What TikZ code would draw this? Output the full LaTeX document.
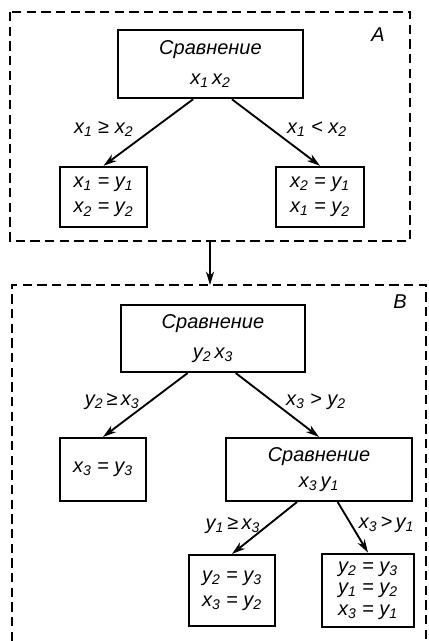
\documentclass[tikz,border=0pt]{standalone}
\usepackage{fontspec}
\setmainfont{Liberation Sans}
\usetikzlibrary{arrows.meta}

% variable with an index, set in the text face
\newcommand\vx[1]{\textit{x}\textsubscript{\itshape #1}}
\newcommand\vy[1]{\textit{y}\textsubscript{\itshape #1}}

\begin{document}
\begin{tikzpicture}[x = 0.75pt, y = -0.75pt, > = {Stealth[length = 10pt, width = 6pt, inset = 3pt]},
	block/.style = {draw, line width = 1.8pt, align = center, inner sep = 0pt, font = \fontsize{15}{19}\selectfont\itshape},
	branch/.style = {->, line width = 1.4pt},
	cond/.style = {font = \fontsize{15}{17}\selectfont\itshape, inner sep = 1pt},
	panel/.style = {dash pattern = on 7pt off 4pt, line width = 1.3pt}]

	\useasboundingbox (0, 0) rectangle (428, 641);

	% Panel A: first comparison

	\draw [panel] (10, 12) rectangle (410, 241);
	\node [cond] (labA) at (378, 35) {A};

	\node [block, minimum width = 139pt, minimum height = 51pt] (cmpA) at (210.5, 64) {Сравнение\\[4pt] \vx1\,\vx2};
	\node [block, minimum width = 65pt, minimum height = 45pt] (resA1) at (103.5, 197) {\vx1 = \vy1\\ \vx2 = \vy2};
	\node [block, minimum width = 66pt, minimum height = 45pt] (resA2) at (320, 197) {\vx2 = \vy1\\ \vx1 = \vy2};

	\draw [branch] ([xshift = -13pt] cmpA.south) -- node [cond, pos = 0.45, left = 13pt] {\vx1 ≥ \vx2} (resA1.north);
	\draw [branch] ([xshift = 16pt] cmpA.south) -- node [cond, pos = 0.45, right = 10pt] {\vx1 < \vx2} (resA2.north);

	% Link between the panels

	\coordinate (outA) at (210, 241);
	\coordinate (inB) at (210, 285);
	\draw [branch] (outA) -- (inB);

	% Panel B: second and third comparisons

	\draw [panel] (12, 641) -- (12, 285) -- (426, 285) -- (426, 641);
	\node [cond] (labB) at (400, 302) {B};

	\node [block, minimum width = 138pt, minimum height = 50pt] (cmpB) at (213, 338.5) {Сравнение\\[4pt] \vy2\,\vx3};
	\node [block, minimum width = 64.5pt, minimum height = 47pt] (resB) at (103, 469.5) {\vx3 = \vy3};
	\node [block, minimum width = 139.5pt, minimum height = 47pt] (cmpC) at (319, 469.5) {Сравнение\\ \vx3\,\vy1};

	\draw [branch] ([xshift = -19pt] cmpB.south) -- node [cond, pos = 0.45, left = 6pt] {\vy2\,≥\,\vx3} (resB.north);
	\draw [branch] ([xshift = 17pt] cmpB.south) -- node [cond, pos = 0.45, right = 8pt] {\vx3 > \vy2} (cmpC.north);

	\node [block, minimum width = 64.5pt, minimum height = 53pt] (resC1) at (232, 590.5) {\vy2 = \vy3\\ \vx3 = \vy2};
	\node [block, minimum width = 69pt, minimum height = 55pt, font = \fontsize{15}{16}\selectfont\itshape] (resC2) at (368, 590.5) {\vy2 = \vy3\\ \vy1 = \vy2\\ \vx3 = \vy1};

	\draw [branch] ([xshift = -16.5pt] cmpC.south) -- node [cond, pos = 0.45, left = 4pt] {\vy1\,≥\,\vx3} (resC1.north);
	\draw [branch] ([xshift = 14pt] cmpC.south) -- node [cond, pos = 0.45, right = 4pt] {\vx3\,>\,\vy1} (resC2.north);

\end{tikzpicture}
\end{document}
